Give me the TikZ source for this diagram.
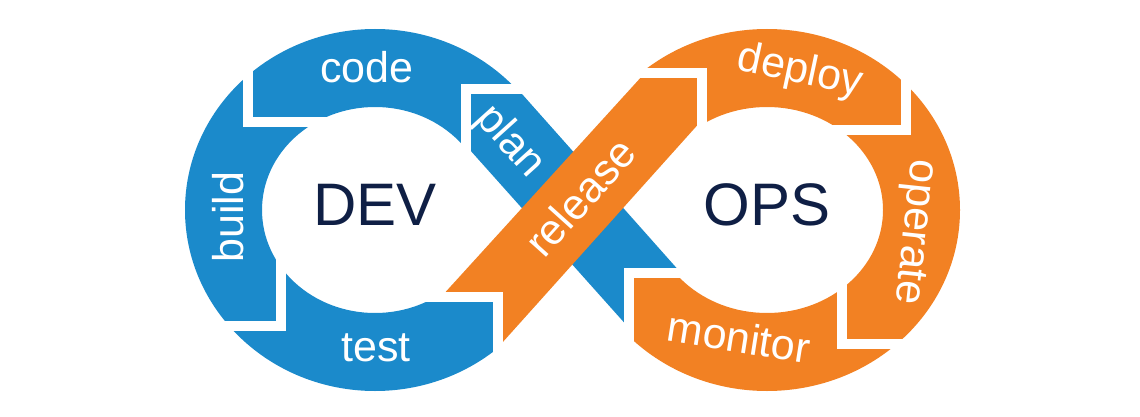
\documentclass[tikz,border=0pt]{standalone}
\usepackage{fontspec}
\setmainfont{Liberation Sans}
\usetikzlibrary{calc}

\definecolor{devblue}{HTML}{1B8ACB}
\definecolor{opsorange}{HTML}{F28123}
\definecolor{loopnavy}{HTML}{0F1F45}

\begin{document}
\begin{tikzpicture}[x=1pt,y=-1pt,
    gap/.style={draw=white, line width=10pt, line join=miter},
    stage/.style={text=white, inner sep=0pt, font=\fontsize{43}{43}\selectfont},
    side/.style={text=loopnavy, inner sep=0pt, font=\fontsize{60}{60}\selectfont}]
    \useasboundingbox (0,0) rectangle (1140,417);

    \coordinate (Cdev) at (375,210);
    \coordinate (Cops) at (767,210);
    % corners of the gaps between the stages
    \coordinate (G1) at (465.5,89.5);
    \coordinate (G2) at (248,122);
    \coordinate (G3) at (281,325.5);
    \coordinate (G4) at (497.5,297);
    \coordinate (G5) at (702,73.5);
    \coordinate (G6) at (906,130.5);
    \coordinate (G7) at (842,344);
    \coordinate (G8) at (629,273);

    % left ring
    \begin{scope}
        \clip (G1) -- (560,89.5) -- (560,-50) -- (-50,-50) -- (-50,470) -- (497.5,470)
            -- (G4) -- (420,297) -- (420,200) -- (465.5,170) -- cycle;
        \fill[devblue, even odd rule] (Cdev) ellipse [x radius=190, y radius=181]
            (Cdev) ellipse [x radius=113, y radius=103];
    \end{scope}
    % right ring
    \begin{scope}
        \clip (G5) -- (600,73.5) -- (600,-50) -- (1200,-50) -- (1200,470) -- (629,470)
            -- (G8) -- (702,273) -- cycle;
        \fill[opsorange, even odd rule] (Cops) ellipse [x radius=193, y radius=181]
            (Cops) ellipse [x radius=116, y radius=103];
    \end{scope}

    % crossing bands
    \fill[devblue] (G1) -- (518,89.5) -- (681,273) -- (G8) -- (629,328) -- (465.5,145) -- cycle;
    \fill[opsorange] (644.4,73.5) -- (G5) -- (702,120) -- (497.5,348) -- (G4) -- (441,297) -- cycle;

    % gaps
    \draw[gap] ($(G1)+(70,0)$) -- (G1) -- ($(G1)+(0,75)$);
    \draw[gap] ($(G2)+(0,-70)$) -- (G2) -- ($(G2)+(85,0)$);
    \draw[gap] ($(G3)+(-80,0)$) -- (G3) -- ($(G3)+(0,-75)$);
    \draw[gap] ($(G4)+(0,75)$) -- (G4) -- ($(G4)+(-80,0)$);
    \draw[gap] ($(G5)+(-80,0)$) -- (G5) -- ($(G5)+(0,70)$);
    \draw[gap] ($(G6)+(0,-75)$) -- (G6) -- ($(G6)+(-80,0)$);
    \draw[gap] ($(G7)+(90,0)$) -- (G7) -- ($(G7)+(0,-75)$);
    \draw[gap] ($(G8)+(75,0)$) -- (G8) -- ($(G8)+(0,75)$);

    \node[stage] (code) at (367,67) {code};
    \node[stage, rotate=90] (build) at (228,217) {build};
    \node[stage] (test) at (376,348) {test};
    \node[stage, rotate=-48] (plan) at (510,142) {plan};
    \node[stage, rotate=48] (release) at (580,197) {release};
    \node[stage, rotate=-12] (deploy) at (800,72) {deploy};
    \node[stage, rotate=-96] (operate) at (913,232) {operate};
    \node[stage, rotate=-9] (monitor) at (739,337) {monitor};

    \node[side] (dev) at (375,205) {DEV};
    \node[side] (ops) at (767,205) {OPS};
\end{tikzpicture}
\end{document}
